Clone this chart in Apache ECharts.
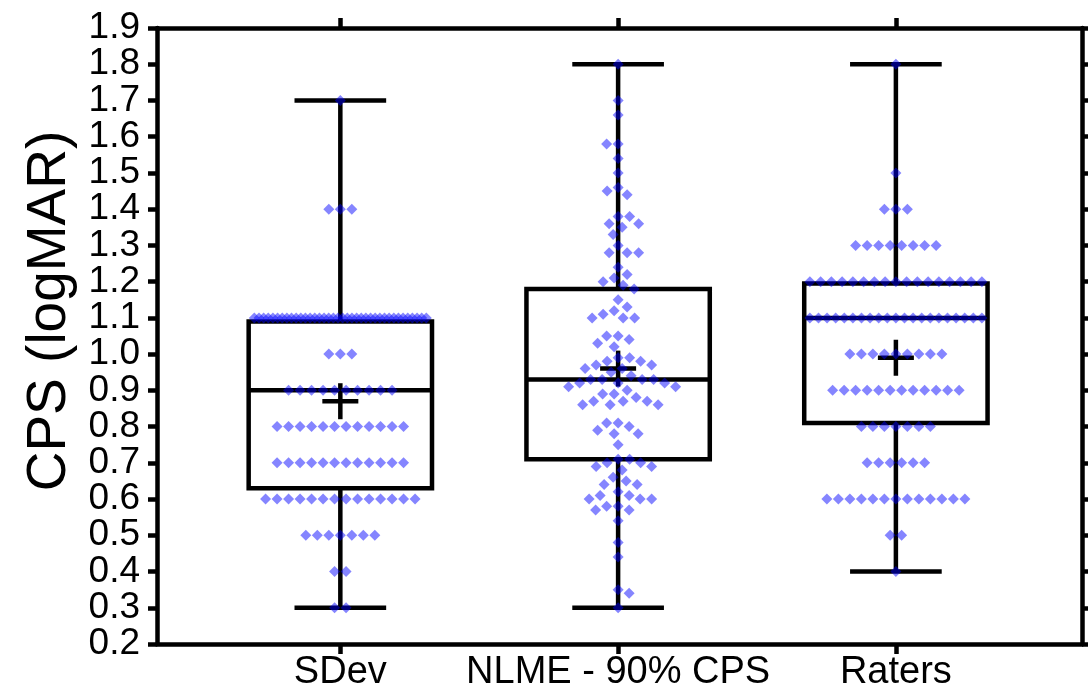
<!DOCTYPE html>
<html>
<head>
<meta charset="utf-8">
<script src="https://cdn.jsdelivr.net/npm/echarts@6/dist/echarts.min.js"></script>
<style>
  html, body { margin: 0; padding: 0; background: #fff; }
  #main { width: 1088px; height: 700px; }
</style>
</head>
<body>
<div id="main"></div>
<script>
var categories = ['SDev', 'NLME - 90% CPS', 'Raters'];
var yTicks = [0.2, 0.3, 0.4, 0.5, 0.6, 0.7, 0.8, 0.9, 1.0, 1.1, 1.2, 1.3, 1.4, 1.5, 1.6, 1.7, 1.8, 1.9];

// SDev and Raters only take values on a 0.1 grid: level + how many points
var sdevLevels = [0.3, 0.4, 0.5, 0.6, 0.7, 0.8, 0.9, 1.0, 1.1, 1.4, 1.7];
var sdevCounts = [2, 2, 7, 14, 12, 12, 10, 3, 38, 3, 1];
var ratersLevels = [0.4, 0.5, 0.6, 0.7, 0.8, 0.9, 1.0, 1.1, 1.2, 1.3, 1.4, 1.5, 1.8];
var ratersCounts = [1, 2, 13, 6, 7, 12, 9, 21, 17, 8, 3, 1, 1];

// NLME values are continuous
var nlmeValues = [
  1.80, 1.70, 1.66, 1.58, 1.58, 1.54, 1.50, 1.46, 1.45, 1.44,
  1.38, 1.38, 1.36, 1.36, 1.35, 1.33, 1.30, 1.28, 1.28, 1.28,
  1.24, 1.22, 1.21, 1.20, 1.19, 1.18, 1.15, 1.13, 1.12, 1.11,
  1.10, 1.10, 1.10, 1.05, 1.05, 1.04, 1.03, 1.02, 0.99, 0.99,
  0.98, 0.98, 0.97, 0.97, 0.96, 0.96, 0.95, 0.94, 0.93, 0.93,
  0.93, 0.93, 0.92, 0.92, 0.92, 0.91, 0.91, 0.90, 0.89, 0.89,
  0.88, 0.87, 0.87, 0.87, 0.86, 0.86, 0.86, 0.81, 0.81, 0.80,
  0.79, 0.78, 0.78, 0.75, 0.71, 0.71, 0.70, 0.70, 0.69, 0.69,
  0.68, 0.66, 0.65, 0.64, 0.64, 0.62, 0.61, 0.61, 0.60, 0.60,
  0.60, 0.58, 0.58, 0.57, 0.57, 0.54, 0.48, 0.44, 0.35, 0.34,
  0.30
];

// box statistics
var boxMin = [0.30, 0.30, 0.40];
var boxQ1 = [0.63, 0.71, 0.81];
var boxMedian = [0.90, 0.93, 1.10];
var boxQ3 = [1.09, 1.18, 1.195];
var boxMax = [1.70, 1.80, 1.80];
var boxMean = [0.87, 0.96, 0.99];

function expand(levels, counts) {
  var out = [];
  levels.forEach(function (v, i) {
    for (var k = 0; k < counts[i]; k++) out.push(v);
  });
  return out;
}

var groups = [
  { values: expand(sdevLevels, sdevCounts), mode: 'rows' },
  { values: nlmeValues, mode: 'swarm' },
  { values: expand(ratersLevels, ratersCounts), mode: 'rows' }
];

var font = 'Arial, "Liberation Sans", sans-serif';
var lineW = 4.5;
var black = '#000';

// labels are packed tight, so they are split over two stacked left axes
// (echarts drops neighbouring labels that touch)
var yLabelsOdd = yTicks.filter(function (v, i) { return i % 2 === 1; });
var yLabelsEven = yTicks.filter(function (v, i) { return i % 2 === 0; });

var boxData = categories.map(function (c, i) {
  return [i, boxMin[i], boxQ1[i], boxMedian[i], boxQ3[i], boxMax[i], boxMean[i]];
});

function renderBox(params, api) {
  var i = api.value(0);
  var halfBox = api.size([0.33, 0])[0];
  var halfCap = api.size([0.165, 0])[0];
  var cx = api.coord([i, 0])[0];
  var yMin = api.coord([i, api.value(1)])[1];
  var yQ1 = api.coord([i, api.value(2)])[1];
  var yMed = api.coord([i, api.value(3)])[1];
  var yQ3 = api.coord([i, api.value(4)])[1];
  var yMax = api.coord([i, api.value(5)])[1];
  var yMean = api.coord([i, api.value(6)])[1];
  var st = { stroke: black, lineWidth: lineW, fill: null };
  function line(x1, y1, x2, y2) {
    return { type: 'line', shape: { x1: x1, y1: y1, x2: x2, y2: y2 }, style: st };
  }
  return {
    type: 'group',
    children: [
      line(cx, yQ3, cx, yMax),
      line(cx, yQ1, cx, yMin),
      line(cx - halfCap, yMax, cx + halfCap, yMax),
      line(cx - halfCap, yMin, cx + halfCap, yMin),
      { type: 'rect', shape: { x: cx - halfBox, y: yQ3, width: 2 * halfBox, height: yQ1 - yQ3 },
        style: { stroke: black, lineWidth: lineW, fill: '#fff' } },
      line(cx - halfBox, yMed, cx + halfBox, yMed),
      line(cx - 18, yMean, cx + 18, yMean),
      line(cx, yMean - 18, cx, yMean + 18)
    ]
  };
}

var myChart = echarts.init(document.getElementById('main'));

var tickSet = [0, 1, 2];
var yLabelStyle = {
  color: black, fontSize: 37, fontFamily: font, margin: 17,
  formatter: function (v) { return v.toFixed(1); }
};

var option = {
  animation: false,
  grid: { left: 157, right: 6, top: 28, bottom: 56 },
  xAxis: [
    {
      type: 'value', min: -0.66, max: 2.67, position: 'bottom',
      axisLine: { show: true, onZero: false, lineStyle: { color: black, width: lineW } },
      axisTick: { show: true, customValues: tickSet, length: 10, lineStyle: { color: black, width: lineW } },
      axisLabel: {
        customValues: tickSet, color: black, fontSize: 38, fontFamily: font, margin: 10,
        formatter: function (v) { return categories[Math.round(v)]; }
      },
      splitLine: { show: false }
    },
    {
      type: 'value', min: -0.66, max: 2.67, position: 'top',
      axisLine: { show: true, onZero: false, lineStyle: { color: black, width: lineW } },
      axisTick: { show: true, customValues: tickSet, length: 10, lineStyle: { color: black, width: lineW } },
      axisLabel: { show: false },
      splitLine: { show: false }
    }
  ],
  yAxis: [
    {
      type: 'value', min: 0.2, max: 1.9, interval: 0.1, position: 'left',
      name: 'CPS (logMAR)', nameLocation: 'middle', nameGap: 80,
      nameTextStyle: { color: black, fontSize: 55, fontFamily: font, padding: [0, 0, 0, 50] },
      axisLine: { show: true, onZero: false, lineStyle: { color: black, width: lineW } },
      axisTick: { show: true, customValues: yTicks, length: 9, lineStyle: { color: black, width: lineW } },
      axisLabel: Object.assign({ customValues: yLabelsOdd }, yLabelStyle),
      splitLine: { show: false }
    },
    {
      type: 'value', min: 0.2, max: 1.9, interval: 0.1, position: 'right',
      axisLine: { show: true, onZero: false, lineStyle: { color: black, width: lineW } },
      axisTick: { show: true, customValues: yTicks, length: 9, lineStyle: { color: black, width: lineW } },
      axisLabel: { show: false },
      splitLine: { show: false }
    },
    {
      type: 'value', min: 0.2, max: 1.9, interval: 0.1, position: 'left', offset: 0,
      axisLine: { show: false },
      axisTick: { show: false },
      axisLabel: Object.assign({ customValues: yLabelsEven }, yLabelStyle),
      splitLine: { show: false }
    }
  ],
  series: [
    { type: 'custom', name: 'box', renderItem: renderBox, data: boxData, z: 2,
      encode: { x: 0, y: [1, 5] } },
    { type: 'scatter', name: 'points', data: [], z: 3, symbol: 'diamond', symbolSize: 11,
      itemStyle: { color: 'rgba(0,0,255,0.6)' } }
  ]
};

myChart.setOption(option);

// beeswarm offsets computed in pixels, then turned back into x units
var pxPerX = myChart.convertToPixel({ xAxisIndex: 0 }, 1) - myChart.convertToPixel({ xAxisIndex: 0 }, 0);
var pxPerY = myChart.convertToPixel({ yAxisIndex: 0 }, 0.2) - myChart.convertToPixel({ yAxisIndex: 0 }, 1.2);
var dotGap = 11.5;
var maxHalf = 86;

var points = [];
groups.forEach(function (g, gi) {
  if (g.mode === 'rows') {
    var rows = {};
    g.values.forEach(function (v) { rows[v] = (rows[v] || 0) + 1; });
    Object.keys(rows).forEach(function (k) {
      var n = rows[k];
      var gap = n > 1 ? Math.min(dotGap, 2 * maxHalf / (n - 1)) : 0;
      for (var j = 0; j < n; j++) {
        var off = (j - (n - 1) / 2) * gap;
        points.push([gi + off / pxPerX, +k]);
      }
    });
  } else {
    var placed = [];
    var sorted = g.values.slice().sort(function (a, b) { return b - a; });
    sorted.forEach(function (v, idx) {
      var py = -v * pxPerY;
      var sign = idx % 2 ? 1 : -1;
      for (var s = 0; s < 200; s += 0.5) {
        var cands = s === 0 ? [0] : [sign * s, -sign * s];
        var found = null;
        for (var c = 0; c < cands.length; c++) {
          var ok = placed.every(function (p) {
            var dx = p[0] - cands[c], dy = p[1] - py;
            return dx * dx + dy * dy >= dotGap * dotGap;
          });
          if (ok) { found = cands[c]; break; }
        }
        if (found !== null) {
          placed.push([found, py]);
          points.push([gi + found / pxPerX, v]);
          break;
        }
      }
    });
  }
});

myChart.setOption({ series: [{}, { data: points }] });
</script>
</body>
</html>
